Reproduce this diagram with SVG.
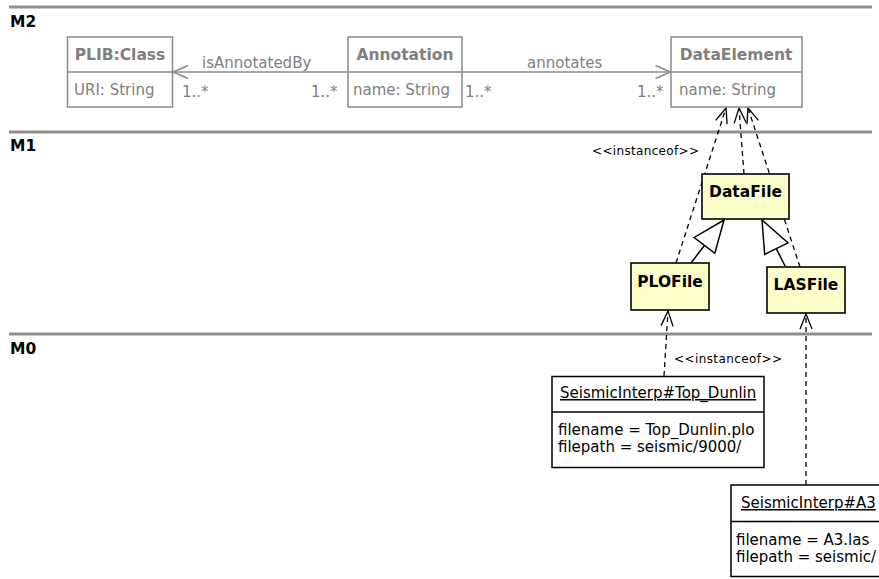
<svg xmlns="http://www.w3.org/2000/svg" width="879" height="579" viewBox="0 0 879 579">
<style>
.sep{stroke:#8f8f8f;stroke-width:3}
.lvl{font-family:"DejaVu Sans",sans-serif;font-weight:bold;font-size:15.5px;fill:#000}
.m2box{fill:#fff;stroke:#8a8a8a;stroke-width:1.5}
.m2t{font-family:"DejaVu Sans",sans-serif;font-weight:bold;font-size:15.5px;fill:#808080}
.m2a{font-family:"DejaVu Sans",sans-serif;font-size:15px;fill:#808080}
.m1box{fill:#ffffcc;stroke:#000;stroke-width:1.6}
.m1t{font-family:"DejaVu Sans",sans-serif;font-weight:bold;font-size:15.5px;fill:#000}
.m0box{fill:#fff;stroke:#000;stroke-width:1.5}
.m0t{font-family:"DejaVu Sans",sans-serif;font-size:15px;fill:#000}
.assoc{stroke:#8a8a8a;stroke-width:1.5;fill:none}
.dep{stroke:#000;stroke-width:1.3;stroke-dasharray:5,4;fill:none}
.gen{stroke:#000;stroke-width:1.5;fill:none}
.small{font-family:"DejaVu Sans",sans-serif;font-size:12px;fill:#000}
</style>
<defs>
<marker id="openGray" viewBox="-18 -9 20 18" markerWidth="20" markerHeight="18" refX="0" refY="0" orient="auto" markerUnits="userSpaceOnUse">
<path d="M-15,-6.5 L0,0 L-15,6.5" fill="none" stroke="#8a8a8a" stroke-width="1.5"/>
</marker>
<marker id="open" viewBox="-18 -9 20 18" markerWidth="20" markerHeight="18" refX="0" refY="0" orient="auto" markerUnits="userSpaceOnUse">
<path d="M-15,-6 L0,0 L-15,6" fill="none" stroke="#000" stroke-width="1.3"/>
</marker>
<marker id="tri" viewBox="-35 -15 37 30" markerWidth="37" markerHeight="30" refX="0" refY="0" orient="auto" markerUnits="userSpaceOnUse">
<path d="M0,0 L-32,-13 L-32,13 Z" fill="#fff" stroke="#000" stroke-width="1.5"/>
</marker>
</defs>
<rect width="879" height="579" fill="#fff"/>

<g id="levels">
<line class="sep" x1="9" y1="7" x2="872" y2="7"/>
<text class="lvl" x="10" y="27">M2</text>
<line class="sep" x1="9" y1="132" x2="872" y2="132"/>
<text class="lvl" x="10" y="151">M1</text>
<line class="sep" x1="9" y1="334" x2="872" y2="334"/>
<text class="lvl" x="10" y="354">M0</text>
</g>

<g id="connectors">
<line class="assoc" x1="348" y1="72" x2="173" y2="72" marker-end="url(#openGray)"/>
<text class="m2a" x="202" y="68" font-size="14">isAnnotatedBy</text>
<text class="m2a" x="182" y="97">1..*</text>
<text class="m2a" x="311" y="97">1..*</text>
<line class="assoc" x1="462" y1="72" x2="670.5" y2="72" marker-end="url(#openGray)"/>
<text class="m2a" x="527" y="68">annotates</text>
<text class="m2a" x="465" y="97">1..*</text>
<text class="m2a" x="637" y="97">1..*</text>

<line class="dep" x1="676" y1="263" x2="726" y2="108" marker-end="url(#open)"/>
<line class="dep" x1="744" y1="174" x2="739" y2="108" marker-end="url(#open)"/>
<line class="dep" x1="800" y1="267" x2="748" y2="108" marker-end="url(#open)"/>
<text class="small" x="592" y="155" textLength="107" lengthAdjust="spacing">&lt;&lt;instanceof&gt;&gt;</text>

<line class="gen" x1="691" y1="263" x2="724" y2="220" marker-end="url(#tri)"/>
<line class="gen" x1="785" y1="266" x2="762" y2="220" marker-end="url(#tri)"/>

<line class="dep" x1="664" y1="376" x2="668" y2="311" marker-end="url(#open)"/>
<text class="small" x="674" y="363" textLength="108" lengthAdjust="spacing">&lt;&lt;instanceof&gt;&gt;</text>
<line class="dep" x1="806" y1="485" x2="806" y2="314" marker-end="url(#open)"/>
</g>

<g id="PLIBClass">
<rect class="m2box" x="67.5" y="37" width="105" height="70"/>
<line class="m2box" x1="67.5" y1="72" x2="172.5" y2="72"/>
<text class="m2t" x="120" y="60" text-anchor="middle">PLIB:Class</text>
<text class="m2a" x="74" y="95">URI: String</text>
</g>

<g id="Annotation">
<rect class="m2box" x="348" y="37" width="114" height="70"/>
<line class="m2box" x1="348" y1="72" x2="462" y2="72"/>
<text class="m2t" x="405" y="60" text-anchor="middle">Annotation</text>
<text class="m2a" x="353" y="95">name: String</text>
</g>

<g id="DataElement">
<rect class="m2box" x="671" y="37" width="131" height="70"/>
<line class="m2box" x1="671" y1="72" x2="802" y2="72"/>
<text class="m2t" x="736" y="60" text-anchor="middle">DataElement</text>
<text class="m2a" x="679" y="95">name: String</text>
</g>

<g id="DataFile">
<rect class="m1box" x="702" y="174" width="87" height="45"/>
<text class="m1t" x="745.5" y="197" text-anchor="middle">DataFile</text>
</g>

<g id="PLOFile">
<rect class="m1box" x="631" y="263" width="78" height="47"/>
<text class="m1t" x="670" y="287" text-anchor="middle">PLOFile</text>
</g>

<g id="LASFile">
<rect class="m1box" x="767" y="267" width="78" height="46"/>
<text class="m1t" x="806" y="290" text-anchor="middle">LASFile</text>
</g>

<g id="TopDunlin">
<rect class="m0box" x="552" y="376.5" width="212" height="91"/>
<line class="m0box" x1="552" y1="412" x2="764" y2="412"/>
<text class="m0t" x="560" y="398" text-decoration="underline">SeismicInterp#Top_Dunlin</text>
<text class="m0t" x="558" y="435">filename = Top_Dunlin.plo</text>
<text class="m0t" x="558" y="452">filepath = seismic/9000/</text>
</g>

<g id="A3">
<rect class="m0box" x="731" y="485" width="160" height="91.5"/>
<line class="m0box" x1="731" y1="521.5" x2="891" y2="521.5"/>
<text class="m0t" x="741" y="508" text-decoration="underline">SeismicInterp#A3</text>
<text class="m0t" x="736" y="545">filename = A3.las</text>
<text class="m0t" x="736" y="562">filepath = seismic/</text>
</g>
</svg>
